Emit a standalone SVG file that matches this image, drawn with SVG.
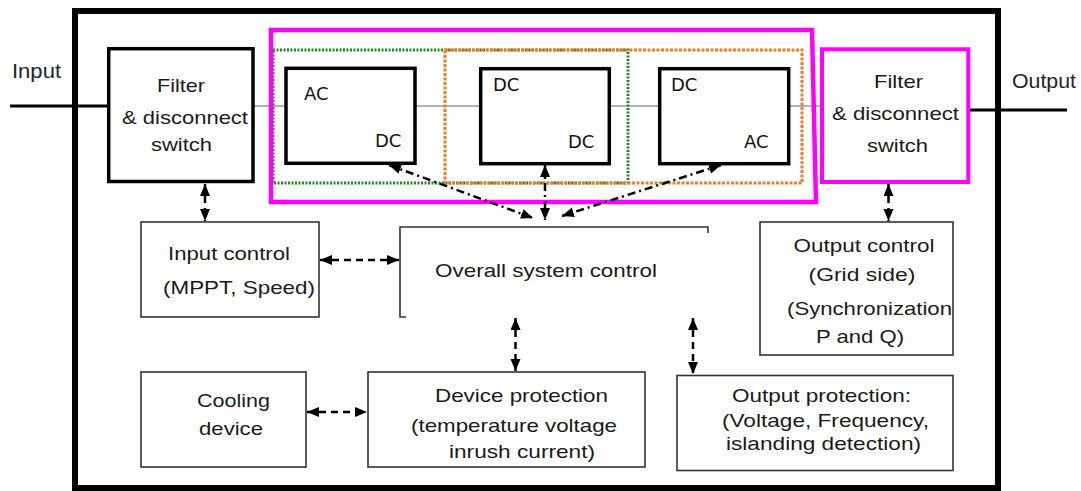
<svg xmlns="http://www.w3.org/2000/svg" width="1081" height="491" viewBox="0 0 1081 491">
<style>
.t{font-family:"Liberation Sans",Arial,sans-serif;font-size:19px;fill:#1a1a1a;text-anchor:middle}
.s{text-anchor:start}
.ad{font-family:"DejaVu Sans",sans-serif;font-size:18px;fill:#111;text-anchor:start}
.lbl{font-family:"Liberation Sans",Arial,sans-serif;font-size:20px;fill:#1e2430}
.thick{fill:#fff;stroke:#000;stroke-width:3.5}
.thin{fill:#fff;stroke:#333;stroke-width:1.6}
.wire{stroke:#666;stroke-width:1.2;fill:none}
.dash{stroke:#000;stroke-width:2.5;fill:none;stroke-dasharray:7 5;marker-start:url(#ah);marker-end:url(#ah)}
.dd{stroke:#000;stroke-width:2.5;fill:none;stroke-dasharray:8 4 2 4;marker-start:url(#ah);marker-end:url(#ah)}
</style>
<defs>
<marker id="ah" markerUnits="userSpaceOnUse" markerWidth="13" markerHeight="11" refX="12" refY="5" orient="auto-start-reverse" viewBox="0 0 13 11">
<path d="M0,0 L12,5 L0,10 Z" fill="#000" stroke="none"/>
</marker>
</defs>
<rect x="0" y="0" width="1081" height="491" fill="#fff"/>
<g id="frame">
<rect x="75" y="11" width="923" height="477" fill="none" stroke="#000" stroke-width="6"/>
</g>
<g id="io-lines">
<line x1="10" y1="106" x2="108" y2="106" stroke="#000" stroke-width="3"/>
<line x1="969" y1="110" x2="1067" y2="110" stroke="#000" stroke-width="3"/>
<text class="lbl" x="12" y="78" textLength="49" lengthAdjust="spacingAndGlyphs">Input</text>
<text class="lbl" x="1012" y="88" textLength="64" lengthAdjust="spacingAndGlyphs">Output</text>
</g>
<g id="wires">
<line class="wire" x1="253" y1="106" x2="286" y2="106"/>
<line class="wire" x1="415" y1="106" x2="481" y2="106"/>
<line class="wire" x1="609" y1="106" x2="660" y2="106"/>
<line class="wire" x1="789" y1="106" x2="822" y2="106"/>
</g>
<g id="groups">
<rect x="273" y="50" width="355" height="133" fill="none" stroke="#1f8a1f" stroke-width="3" stroke-dasharray="2 1.5"/>
<rect x="445" y="50" width="357" height="133" fill="none" stroke="#f07a28" stroke-width="3" stroke-dasharray="3 1.5"/>
<polygon points="271,30 812,30 816,202 271,202" fill="none" stroke="#ff00ff" stroke-width="4.5"/>
</g>
<g id="filter-in">
<rect class="thick" x="108.7" y="48.7" width="144.3" height="132.8"/>
<text class="t" x="181" y="92" textLength="48" lengthAdjust="spacingAndGlyphs">Filter</text>
<text class="t" x="185" y="124" textLength="126" lengthAdjust="spacingAndGlyphs">&amp; disconnect</text>
<text class="t" x="181.5" y="151" textLength="61" lengthAdjust="spacingAndGlyphs">switch</text>
</g>
<g id="acdc">
<rect class="thick" x="286" y="68.3" width="129" height="95" stroke-width="3"/>
<text class="ad" x="304" y="100">AC</text>
<text class="ad" x="375" y="147">DC</text>
</g>
<g id="dcdc">
<rect class="thick" x="480.7" y="68.7" width="128.6" height="95" stroke-width="3"/>
<text class="ad" x="493" y="91">DC</text>
<text class="ad" x="568" y="148">DC</text>
</g>
<g id="dcac">
<rect class="thick" x="659.7" y="68.7" width="129" height="95" stroke-width="3"/>
<text class="ad" x="671" y="91">DC</text>
<text class="ad" x="744" y="148">AC</text>
</g>
<g id="filter-out">
<rect x="822" y="49.3" width="146.3" height="132.7" fill="#fff" stroke="#ff00ff" stroke-width="4"/>
<text class="t" x="898.5" y="88" textLength="49" lengthAdjust="spacingAndGlyphs">Filter</text>
<text class="t" x="895.5" y="120" textLength="127" lengthAdjust="spacingAndGlyphs">&amp; disconnect</text>
<text class="t" x="897.5" y="152" textLength="61" lengthAdjust="spacingAndGlyphs">switch</text>
</g>
<g id="input-control">
<rect class="thin" x="141" y="222" width="178" height="95"/>
<text class="t" x="229" y="260" textLength="122" lengthAdjust="spacingAndGlyphs">Input control</text>
<text class="t" x="239" y="294" textLength="152" lengthAdjust="spacingAndGlyphs">(MPPT, Speed)</text>
</g>
<g id="overall">
<path d="M406,317 H400 V227 H708 V233" fill="none" stroke="#333" stroke-width="1.6"/>
<text class="t s" x="435" y="277" textLength="222" lengthAdjust="spacingAndGlyphs">Overall system control</text>
</g>
<g id="output-control">
<rect class="thin" x="760" y="222" width="193" height="133"/>
<text class="t" x="864" y="252" textLength="141" lengthAdjust="spacingAndGlyphs">Output control</text>
<text class="t" x="862" y="281" textLength="107" lengthAdjust="spacingAndGlyphs">(Grid side)</text>
<text class="t s" x="787" y="315" textLength="165" lengthAdjust="spacingAndGlyphs">(Synchronization</text>
<text class="t" x="860" y="343" textLength="88" lengthAdjust="spacingAndGlyphs">P and Q)</text>
</g>
<g id="cooling">
<rect class="thin" x="141" y="372" width="165" height="95"/>
<text class="t" x="233.5" y="407" textLength="73" lengthAdjust="spacingAndGlyphs">Cooling</text>
<text class="t" x="231" y="435" textLength="64" lengthAdjust="spacingAndGlyphs">device</text>
</g>
<g id="device-protection">
<rect class="thin" x="368" y="372" width="277" height="95"/>
<text class="t" x="521.5" y="402" textLength="173" lengthAdjust="spacingAndGlyphs">Device protection</text>
<text class="t" x="514" y="432" textLength="206" lengthAdjust="spacingAndGlyphs">(temperature voltage</text>
<text class="t" x="522" y="458" textLength="146" lengthAdjust="spacingAndGlyphs">inrush current)</text>
</g>
<g id="output-protection">
<rect class="thin" x="677" y="375.5" width="276" height="95"/>
<text class="t" x="821.5" y="402" textLength="179" lengthAdjust="spacingAndGlyphs">Output protection:</text>
<text class="t" x="825.5" y="427" textLength="207" lengthAdjust="spacingAndGlyphs">(Voltage, Frequency,</text>
<text class="t" x="823.5" y="450" textLength="195" lengthAdjust="spacingAndGlyphs">islanding detection)</text>
</g>
<g id="connectors">
<line class="dash" x1="205" y1="184" x2="205" y2="221"/>
<line class="dash" x1="888.5" y1="184" x2="888.5" y2="221"/>
<line class="dash" x1="320" y1="260" x2="399" y2="260"/>
<line class="dash" x1="307" y1="412" x2="367" y2="412"/>
<line class="dash" x1="515.5" y1="318" x2="515.5" y2="371"/>
<line class="dash" x1="693" y1="318" x2="693" y2="374"/>
<line class="dd" x1="545" y1="165" x2="545" y2="220"/>
<line class="dd" x1="389" y1="165" x2="533" y2="218"/>
<line class="dd" x1="721" y1="165" x2="562" y2="216"/>
</g>
</svg>
